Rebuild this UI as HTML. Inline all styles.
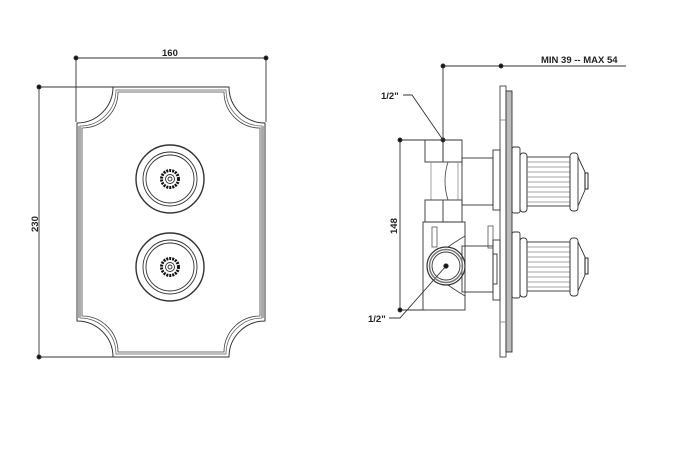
<!DOCTYPE html>
<html><head><meta charset="utf-8"><style>
html,body{margin:0;padding:0;background:#fff}
svg{display:block}
text{font-family:"Liberation Sans",sans-serif;font-weight:bold;font-size:9.5px;fill:#222}
</style></head><body>
<svg width="696" height="452" viewBox="0 0 696 452" xmlns="http://www.w3.org/2000/svg" fill="none" stroke="#333" stroke-width="0.9">
<!-- LEFT VIEW dims -->
<line x1="76" y1="58" x2="266" y2="58"/>
<line x1="76" y1="58" x2="76" y2="122"/>
<line x1="266" y1="58" x2="266" y2="122"/>
<circle cx="76" cy="58" r="2" fill="#111"/><circle cx="266" cy="58" r="2" fill="#111"/>
<text x="162" y="56" stroke="none">160</text>
<line x1="39" y1="87" x2="39" y2="357"/>
<line x1="39" y1="87" x2="113" y2="87"/>
<line x1="39" y1="357" x2="113" y2="357"/>
<circle cx="39" cy="87" r="2" fill="#111"/><circle cx="39" cy="357" r="2" fill="#111"/>
<text x="0" y="0" stroke="none" transform="translate(38,232) rotate(-90)">230</text>
<!-- plate outline -->
<g>
<path d="M113 87 H229 A36 36 0 0 0 265 123 V321 A36 36 0 0 0 229 357 H113 A36 36 0 0 0 77 321 V123 A36 36 0 0 0 113 87 Z" stroke="#333" stroke-width="1"/>
<path d="M116 90 H226 A36 36 0 0 0 262 126 V318 A36 36 0 0 0 226 354 H116 A36 36 0 0 0 80 318 V126 A36 36 0 0 0 116 90 Z" stroke="#555" stroke-width="0.7"/>
<path d="M118 92 H224 A36 36 0 0 0 260 128 V316 A36 36 0 0 0 224 352 H118 A36 36 0 0 0 82 316 V128 A36 36 0 0 0 118 92 Z" stroke="#444" stroke-width="0.8"/>
<rect x="78" y="126" width="3" height="192" fill="#aaa" stroke="none"/>
<rect x="261" y="126" width="3" height="192" fill="#aaa" stroke="none"/>
</g>
<!-- knobs front -->
<g id="k1">
<circle cx="170" cy="179" r="34" stroke-width="1.4"/>
<circle cx="170" cy="179" r="27"/>
<circle cx="170" cy="179" r="24"/>
<circle cx="170" cy="179" r="8.5" stroke="#111" stroke-width="3" stroke-dasharray="2 1"/>
<circle cx="170" cy="179" r="4.5"/>
<circle cx="170" cy="179" r="2"/>
</g>
<g transform="translate(0,88)">
<circle cx="170" cy="179" r="34" stroke-width="1.4"/>
<circle cx="170" cy="179" r="27"/>
<circle cx="170" cy="179" r="24"/>
<circle cx="170" cy="179" r="8.5" stroke="#111" stroke-width="3" stroke-dasharray="2 1"/>
<circle cx="170" cy="179" r="4.5"/>
<circle cx="170" cy="179" r="2"/>
</g>
<!-- RIGHT VIEW dims -->
<line x1="443" y1="66" x2="626" y2="66"/>
<circle cx="443" cy="66" r="2" fill="#111"/><circle cx="501" cy="66" r="2" fill="#111"/>
<text x="541" y="63" stroke="none">MIN 39 -- MAX 54</text>
<line x1="443" y1="66" x2="443" y2="162"/>
<line x1="400" y1="140" x2="462" y2="140"/>
<line x1="400" y1="140" x2="400" y2="310"/>
<line x1="400" y1="310" x2="425" y2="310"/>
<circle cx="400" cy="140" r="2" fill="#111"/><circle cx="443" cy="140" r="2" fill="#111"/><circle cx="400" cy="310" r="2" fill="#111"/>
<text x="0" y="0" stroke="none" transform="translate(397,234) rotate(-90)">148</text>
<text x="381" y="99" stroke="none">1/2"</text>
<polyline points="403,95 412,95 443,140"/>
<text x="368" y="322" stroke="none">1/2"</text>
<polyline points="389,318 400,318 446,266"/>
<!-- wall plate -->
<rect x="500" y="86" width="6" height="271" stroke="#444"/>
<rect x="506" y="91" width="6" height="261" fill="#bbb" stroke="#333"/>
<line x1="500" y1="120" x2="506" y2="120" stroke="#888"/><line x1="500" y1="322" x2="506" y2="322" stroke="#888"/>
<!-- body -->
<rect x="425" y="140" width="37" height="22"/>
<line x1="443" y1="140" x2="443" y2="162"/>
<line x1="431" y1="162" x2="431" y2="200" stroke="#999"/>
<line x1="458" y1="162" x2="458" y2="200" stroke="#999"/>
<path d="M448 162 Q442 181 448 200" stroke="#555"/>
<rect x="425" y="200" width="37" height="22"/>
<line x1="443" y1="200" x2="443" y2="222"/>
<rect x="462" y="158" width="31" height="47"/>
<rect x="493" y="150" width="7" height="60"/>
<rect x="423" y="222" width="42" height="88"/>
<rect x="432" y="227" width="5" height="20" stroke="#666"/>
<rect x="488" y="226" width="5" height="22" stroke="#666"/>
<path d="M465 236 Q455 242 448 247 M465 296 Q455 290 448 285" stroke="#444"/>
<rect x="462" y="246" width="31" height="46"/>
<rect x="493" y="240" width="7" height="60"/>
<rect x="493" y="254" width="4" height="30"/>
<circle cx="446" cy="266" r="19" stroke-width="1.2"/>
<circle cx="446" cy="266" r="16.5" stroke="#777" stroke-width="1.5"/>
<circle cx="446" cy="266" r="14"/>
<circle cx="446" cy="266" r="2.2" fill="#111"/>
<!-- side knobs -->
<g id="sk">
<rect x="512" y="147" width="8" height="66" rx="2"/>
<rect x="520" y="153" width="7" height="59" rx="3"/>
<rect x="527" y="157" width="43" height="49"/>
<g stroke="#888" stroke-width="0.8">
<line x1="527" y1="162" x2="570" y2="162"/><line x1="527" y1="167" x2="570" y2="167"/>
<line x1="527" y1="172" x2="570" y2="172"/><line x1="527" y1="177" x2="570" y2="177"/>
<line x1="527" y1="182" x2="570" y2="182"/><line x1="527" y1="187" x2="570" y2="187"/>
<line x1="527" y1="192" x2="570" y2="192"/><line x1="527" y1="197" x2="570" y2="197"/>
<line x1="527" y1="202" x2="570" y2="202"/></g>
<rect x="570" y="153" width="8" height="58" rx="3"/>
<path d="M578 157 L585 172 V190 L578 206"/>
<rect x="585" y="173" width="3" height="16" stroke="#111"/>
</g>
<use href="#sk" transform="translate(0,85)"/>
</svg>
</body></html>
